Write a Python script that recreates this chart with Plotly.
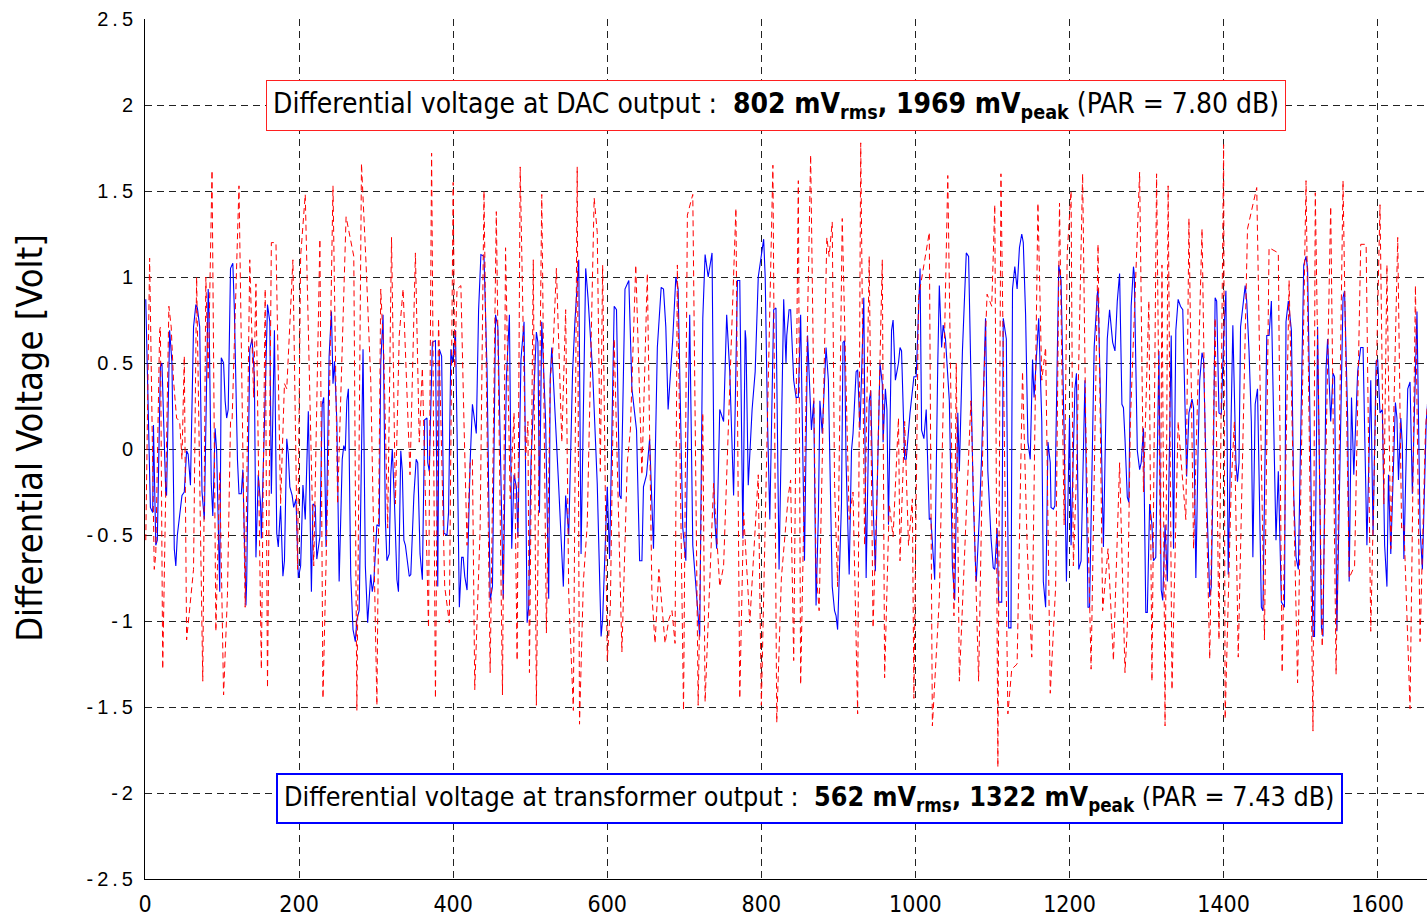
import plotly.graph_objects as go

# Transformer output (blue, solid): sample index, differential voltage [V]
transformer_samples = [
    (1, 0.87), (7, -0.34), (10, -0.37), (11, 0.14), (14, -0.56), (16, -0.53), (20, 0.48), (22, 0.50),
    (27, -0.26), (28, -0.27), (32, 0.69), (35, 0.50), (38, -0.58), (40, -0.68), (42, -0.50), (45, -0.37),
    (48, -0.27), (51, -0.25), (54, -0.01), (56, -0.03), (59, -0.21), (63, 0.71), (66, 0.84), (68, 0.82),
    (71, 0.71), (74, -0.25), (77, -0.41), (82, 0.93), (83, 0.81), (86, -0.20), (88, -0.39), (91, 0.12),
    (93, -0.01), (97, -0.83), (99, 0.53), (102, 0.50), (104, 0.28), (106, 0.18), (108, 0.23), (111, 1.05),
    (114, 1.08), (116, 0.81), (120, -0.06), (122, -0.26), (125, -0.26), (127, -0.12), (131, -0.91), (132, -0.77),
    (136, 0.58), (139, 0.64), (142, 0.42), (144, -0.63), (147, -0.15), (150, -0.32), (151, -0.52), (155, 0.14),
    (159, 0.84), (162, 0.74), (164, -0.26), (168, 0.69), (171, -0.49), (173, -0.57), (176, -0.33), (179, -0.74),
    (181, -0.65), (184, 0.06), (186, -0.03), (188, -0.22), (191, -0.27), (193, -0.34), (196, -0.29), (199, -0.75),
    (202, -0.68), (205, -0.21), (208, -0.41), (212, 0.22), (216, -0.83), (218, -0.32), (221, -0.33), (223, -0.64),
    (227, -0.51), (230, 0.26), (232, 0.30), (235, -0.57), (239, 0.54), (242, 0.80), (244, 0.38), (246, 0.51),
    (249, 0.16), (252, -0.77), (256, -0.06), (258, 0.02), (260, -0.01), (262, 0.28), (264, 0.35), (267, -0.73),
    (270, -1.05), (273, -1.12), (275, -0.99), (278, -0.94), (283, 0.58), (286, -0.68), (289, -1.01), (293, -0.73),
    (295, -0.83), (297, -0.77), (299, -0.56), (301, -0.44), (304, -0.45), (306, 0.50), (309, 0.78), (312, -0.41),
    (314, -0.65), (317, -0.61), (319, -0.15), (321, 0.00), (324, -0.34), (327, -0.76), (329, -0.83), (332, -0.01),
    (334, -0.13), (336, -0.53), (338, -0.56), (341, -0.67), (343, -0.74), (345, -0.73), (349, -0.27), (352, -0.06),
    (354, -0.08), (357, -0.61), (360, -0.76), (363, 0.17), (366, 0.18), (367, -0.08), (369, -0.13), (373, 0.62),
    (377, 0.63), (380, -0.80), (382, 0.58), (385, 0.54), (388, -0.49), (392, -0.50), (394, -0.37), (397, 0.58),
    (399, 0.50), (401, 0.59), (403, 0.69), (405, 0.11), (408, -0.92), (411, -0.63), (413, -0.63), (415, -0.74),
    (418, -0.82), (422, -0.08), (425, 0.26), (428, 0.16), (430, 0.09), (433, 0.81), (436, 1.13), (440, 1.12),
    (444, 0.45), (448, -0.88), (451, -0.80), (455, 0.78), (458, 0.71), (461, 0.06), (465, -0.87), (469, 0.40),
    (473, 0.78), (476, -0.58), (479, -0.15), (482, -0.22), (484, -0.51), (488, 0.52), (492, 0.74), (496, -1.01),
    (498, -0.92), (501, -0.08), (508, 0.68), (510, 0.62), (512, -0.37), (515, 0.74), (520, 0.16), (524, -0.87),
    (526, 0.42), (528, 0.59), (531, 0.33), (535, 0.02), (537, -0.22), (543, -0.80), (546, -0.27), (550, -0.50),
    (555, 0.45), (558, 0.74), (563, 1.10), (566, -0.61), (572, 1.05), (575, 0.88), (578, 0.64), (581, 0.45),
    (587, -0.20), (592, -1.09), (594, -0.99), (600, -0.22), (603, -0.64), (609, 0.83), (612, 0.81), (616, -0.27),
    (618, -0.29), (620, 0.30), (623, 0.93), (628, 0.98), (632, 0.35), (638, 0.11), (642, -0.65), (645, -0.65),
    (647, -0.22), (651, -0.15), (655, 0.06), (660, -0.58), (665, 0.59), (670, 0.94), (673, 0.93), (676, 0.71),
    (679, 0.23), (685, 0.64), (689, 1.00), (692, 0.93), (698, -0.46), (702, -0.65), (707, 0.78), (711, -0.56),
    (716, -0.87), (720, -1.09), (724, 0.76), (727, 1.13), (731, 1.00), (736, 1.14), (739, -0.37), (742, -0.58),
    (746, 0.23), (751, 0.16), (755, 0.78), (759, 0.45), (764, -0.27), (769, 0.98), (772, 0.98), (776, -0.52),
    (779, 0.69), (780, 0.64), (783, -0.21), (788, 0.23), (792, 0.45), (796, 1.00), (803, 1.22), (805, 1.00),
    (808, 0.16), (811, -0.41), (816, 0.81), (819, 0.82), (823, -0.70), (829, 0.87), (832, 0.50), (833, 0.66),
    (836, 0.81), (838, 0.81), (842, 0.40), (845, 0.30), (848, 0.30), (851, 0.78), (856, -0.65), (860, 0.66),
    (865, 0.11), (868, 0.28), (871, -0.91), (874, -0.39), (876, 0.28), (879, 0.09), (884, 0.59), (887, 0.40),
    (892, -0.80), (895, -0.94), (897, -0.97), (899, -1.05), (904, -0.32), (906, 0.62), (908, 0.63), (910, -0.08),
    (914, -0.73), (917, -0.01), (919, 0.09), (921, 0.26), (923, 0.45), (925, 0.46), (928, 0.11), (933, 0.88),
    (936, -0.75), (940, 0.28), (942, 0.34), (945, -0.32), (948, -0.71), (954, 0.50), (957, 0.38), (958, 0.04),
    (961, 0.35), (963, 0.23), (965, -0.44), (969, 0.69), (971, 0.75), (974, 0.40), (978, 0.50), (980, 0.59),
    (982, 0.57), (986, -0.06), (988, -0.06), (993, 0.21), (995, 0.30), (998, 0.42), (1001, 0.42), (1006, 1.05),
    (1008, 0.11), (1011, 0.06), (1014, 0.23), (1018, -0.41), (1020, -0.40), (1025, -0.76), (1029, 0.50), (1031, 0.95),
    (1034, 0.59), (1036, 0.72), (1039, 0.64), (1044, 0.28), (1048, -0.68), (1051, -0.88), (1055, 0.21), (1057, -0.13),
    (1061, 0.57), (1066, 1.14), (1069, 1.12), (1071, 0.64), (1075, -0.27), (1078, -0.68), (1079, -0.77), (1083, -0.39),
    (1086, -0.03), (1091, 0.76), (1094, -0.13), (1098, -0.51), (1101, -0.69), (1103, -0.70), (1106, -0.46), (1108, -0.89),
    (1112, -0.89), (1114, 0.76), (1118, 0.64), (1121, -1.04), (1124, -1.04), (1126, 0.93), (1129, 1.06), (1132, 0.93),
    (1135, 1.17), (1138, 1.25), (1140, 1.20), (1143, 0.78), (1146, 0.04), (1149, -0.06), (1152, 0.52), (1154, 0.30),
    (1158, 0.64), (1160, 0.76), (1164, 0.16), (1166, -0.77), (1169, -0.92), (1172, 0.04), (1175, -0.08), (1176, -0.34),
    (1179, -0.35), (1181, -0.33), (1186, 1.07), (1189, 0.98), (1193, 0.09), (1196, -0.77), (1200, 0.18), (1202, -0.56),
    (1207, 0.35), (1209, 0.44), (1212, -0.70), (1215, -0.65), (1220, 0.40), (1224, -0.92), (1226, -0.92), (1232, 0.59),
    (1236, 0.90), (1237, 0.93), (1241, 0.11), (1244, -0.57), (1249, 0.64), (1252, 0.81), (1256, 0.62), (1259, 0.57),
    (1262, 0.86), (1265, 1.02), (1268, 0.26), (1270, 0.24), (1272, 0.06), (1275, -0.28), (1277, -0.31), (1280, 0.83),
    (1283, 1.06), (1284, 1.02), (1288, -0.01), (1291, -0.12), (1293, -0.08), (1296, 0.12), (1299, -0.95), (1301, -0.95),
    (1304, -0.32), (1307, -0.44), (1309, -0.65), (1312, -0.63), (1316, 0.57), (1319, -0.82), (1321, -0.88), (1324, -0.44),
    (1327, -0.77), (1332, 0.66), (1335, -0.58), (1338, 0.69), (1341, 0.87), (1344, 0.83), (1347, 0.81), (1349, 0.40),
    (1352, -0.16), (1355, 0.21), (1359, 0.29), (1361, 0.24), (1364, -0.75), (1367, 0.02), (1369, 0.40), (1372, 0.56),
    (1374, 0.52), (1378, -0.27), (1382, -0.86), (1384, -0.80), (1387, 0.04), (1389, 0.88), (1391, 0.86), (1394, 0.21),
    (1397, 0.20), (1400, 0.64), (1403, 0.92), (1406, -0.73), (1412, 0.72), (1416, -0.08), (1418, -0.19), (1420, -0.08),
    (1422, 0.71), (1425, 0.83), (1428, 0.95), (1430, 0.86), (1433, 0.57), (1436, 0.16), (1438, -0.63), (1441, 0.26),
    (1444, 0.35), (1446, -0.15), (1449, -0.92), (1451, -0.94), (1456, 0.66), (1459, 0.66), (1462, 0.86), (1466, -0.08),
    (1468, -0.53), (1471, -0.13), (1475, -0.89), (1479, -0.92), (1481, 0.74), (1484, 0.86), (1488, 0.69), (1491, -0.27),
    (1494, -0.63), (1497, -0.70), (1501, 0.45), (1504, 1.07), (1507, 1.12), (1509, 1.05), (1513, -0.08), (1516, -1.09),
    (1518, -1.09), (1522, 0.71), (1525, -0.32), (1527, -1.04), (1529, -1.09), (1533, 0.47), (1535, 0.64), (1539, 0.16),
    (1542, 0.44), (1544, 0.42), (1547, -1.06), (1553, 0.40), (1555, 0.88), (1557, 0.92), (1561, 0.18), (1563, -0.77),
    (1566, 0.30), (1569, -0.15), (1574, 0.45), (1578, 0.59), (1581, 0.59), (1586, -0.56), (1591, 0.40), (1594, -0.50),
    (1598, 0.51), (1600, 0.52), (1603, 0.21), (1606, 0.23), (1609, -0.56), (1612, -0.80), (1614, -0.15), (1617, -0.61),
    (1623, 0.27), (1625, 0.18), (1627, -0.18), (1630, 0.18), (1632, 0.02), (1634, -0.64), (1639, 0.35), (1642, 0.39),
    (1645, -0.26), (1651, 0.80), (1655, -0.46), (1658, -0.70), (1663, 0.16), (1667, 0.40),
]

# DAC output (red, dashed): sample index, differential voltage [V]
dac_samples = [
    (1, -0.53), (6, 1.11), (12, -0.70), (14, -0.61), (19, 0.69), (20, 0.71), (23, -1.28), (31, 0.83),
    (34, 0.71), (37, 0.40), (41, 0.18), (45, 0.16), (48, -0.06), (51, 0.54), (54, -1.11), (59, -0.89),
    (63, -0.70), (67, 1.00), (75, -1.35), (79, 1.00), (82, 0.40), (87, 1.62), (92, -1.06), (97, -0.13),
    (102, -1.43), (107, -0.85), (111, 0.16), (113, 0.16), (122, 1.53), (130, -0.92), (136, 1.10), (141, 0.30),
    (144, 0.96), (151, -1.28), (156, 0.93), (159, -1.39), (164, 1.20), (170, 1.20), (176, -0.32), (181, 0.38),
    (184, 0.35), (192, 1.10), (198, -0.70), (202, 1.12), (208, 1.48), (219, -0.68), (227, 1.22), (231, -1.45),
    (238, -0.08), (244, 1.53), (250, -0.32), (261, 1.35), (267, 1.22), (271, 1.12), (275, -1.52), (281, 1.66),
    (287, 1.07), (293, 0.40), (301, -1.49), (306, 0.93), (310, 0.54), (315, -0.46), (320, 1.23), (325, -0.32),
    (330, 0.66), (335, 0.93), (344, -0.15), (351, 1.14), (356, 0.04), (360, 0.47), (368, -1.04), (372, 1.72),
    (377, -1.45), (381, 0.76), (389, -0.80), (395, -1.01), (400, 1.55), (402, 0.47), (405, 0.93), (410, 0.95),
    (414, 0.16), (418, -0.56), (422, -0.08), (425, -0.06), (428, -1.40), (431, -1.04), (435, -0.46), (440, 1.50),
    (443, 0.40), (448, -1.30), (456, 1.38), (464, -1.43), (468, 1.17), (474, -0.29), (479, 0.21), (483, -1.23),
    (487, 1.64), (494, -0.06), (497, 0.16), (499, -1.30), (504, 1.10), (508, -1.49), (515, 1.48), (521, -1.07),
    (526, 0.40), (530, 0.62), (534, 1.05), (541, 0.04), (546, 0.81), (550, -0.85), (556, -1.52), (561, 1.64),
    (564, -1.60), (569, -0.77), (574, -0.44), (583, 1.46), (587, 1.26), (591, -0.13), (594, 1.07), (600, -1.23),
    (604, -0.92), (609, 0.64), (619, -1.18), (626, -0.08), (630, 0.11), (637, 1.07), (645, -0.15), (652, 1.02),
    (658, -0.85), (662, -1.13), (667, -0.70), (675, -1.13), (680, -0.99), (684, -0.94), (688, -1.13), (691, 1.07),
    (699, -1.52), (704, 1.36), (711, 1.48), (718, -1.49), (724, 0.21), (727, -1.47), (738, -0.20), (746, -0.80),
    (751, -0.68), (767, 1.40), (772, -1.45), (777, -0.37), (785, -1.01), (796, -0.15), (800, -1.49), (815, 1.65),
    (820, -1.59), (826, -0.75), (835, -0.27), (838, -0.18), (842, -1.23), (848, 1.56), (851, -1.37), (858, 0.26),
    (864, 1.71), (871, -0.70), (875, -0.94), (879, -0.08), (885, 1.23), (888, 1.12), (892, 1.32), (895, -0.20),
    (899, -0.80), (905, 1.34), (914, -0.41), (919, -0.25), (922, -0.99), (925, -1.54), (929, 1.78), (934, -0.56),
    (940, 1.12), (945, -1.04), (950, -0.27), (957, 1.10), (960, -1.33), (966, -0.32), (971, -0.51), (978, 0.18),
    (980, -0.65), (986, 0.16), (991, -0.56), (996, -0.29), (998, -1.45), (1004, 0.88), (1018, 1.26), (1022, -1.61),
    (1031, -0.87), (1042, 1.59), (1050, -0.97), (1053, 0.50), (1057, -1.35), (1064, -0.61), (1072, 0.28), (1082, -1.35),
    (1089, 0.42), (1093, 0.90), (1099, 0.83), (1103, 1.42), (1107, -1.85), (1111, 1.60), (1120, -1.54), (1125, -1.28),
    (1132, -1.25), (1139, 0.45), (1145, -0.56), (1151, -1.21), (1159, 1.43), (1164, 0.40), (1169, 0.59), (1175, -1.42),
    (1182, -0.80), (1187, 1.43), (1193, -0.44), (1197, 1.14), (1202, 1.50), (1205, -0.68), (1209, -0.15), (1217, 1.60),
    (1221, 0.16), (1228, -1.28), (1237, 1.19), (1243, -0.94), (1250, -0.58), (1257, -1.23), (1265, -0.08), (1272, -1.30),
    (1275, -1.04), (1279, 0.16), (1291, 1.61), (1296, -0.25), (1303, 0.86), (1307, -1.35), (1313, 1.60), (1318, -0.61),
    (1320, 1.07), (1324, -1.61), (1328, 1.53), (1333, -1.40), (1336, -0.77), (1341, 0.16), (1345, -0.08), (1351, -0.41),
    (1355, 1.34), (1361, -0.58), (1372, 1.28), (1377, -0.22), (1382, -1.22), (1389, 0.76), (1394, -1.11), (1400, 1.77),
    (1402, -1.57), (1410, -0.20), (1414, 0.16), (1419, -1.21), (1431, 1.28), (1443, 1.52), (1453, -1.11), (1459, 1.17),
    (1471, 1.14), (1476, -1.30), (1485, 0.98), (1496, -1.36), (1507, 1.56), (1516, -1.64), (1519, 1.49), (1528, -1.15),
    (1539, 1.41), (1546, -1.31), (1555, 1.56), (1563, -0.75), (1570, -0.68), (1578, 1.19), (1585, 1.19), (1591, -1.06),
    (1603, 1.42), (1608, -0.32), (1612, 1.07), (1617, -0.58), (1626, 1.23), (1631, -0.46), (1634, -0.44), (1642, -1.51),
    (1649, 0.95), (1655, -1.12), (1662, 0.11), (1667, 0.40),
]

x_ticks = [0, 200, 400, 600, 800, 1000, 1200, 1400, 1600]
y_ticks = [-2.5, -2, -1.5, -1, -0.5, 0, 0.5, 1, 1.5, 2, 2.5]
y_tick_text = ["-2.5", "-2", "-1.5", "-1", "-0.5", "0", "0.5", "1", "1.5", "2", "2.5"]

dac_label = ("Differential voltage at DAC output :  <b>802 mV<sub>rms</sub>, "
             "1969 mV<sub>peak</sub></b> (PAR = 7.80 dB)")
xfmr_label = ("Differential voltage at transformer output :  <b>562 mV<sub>rms</sub>, "
              "1322 mV<sub>peak</sub></b> (PAR = 7.43 dB)")

NARROW = "Liberation Sans Narrow, Arial Narrow, DejaVu Sans Condensed, Liberation Sans, sans-serif"
REGULAR = "Liberation Sans, Arial, sans-serif"


def spaced(label):
    # MATLAB-style loose letter spacing on the y tick labels
    return "\u2009".join(label)


fig = go.Figure()
fig.add_trace(go.Scatter(
    x=[p[0] for p in transformer_samples], y=[p[1] for p in transformer_samples],
    mode="lines", line=dict(color="#0000ff", width=1.1), showlegend=False,
))
fig.add_trace(go.Scatter(
    x=[p[0] for p in dac_samples], y=[p[1] for p in dac_samples],
    mode="lines", line=dict(color="#ff0000", width=1, dash="6px,4px"), showlegend=False,
))

fig.add_annotation(
    x=819, y=2.0, xref="x", yref="y", text=dac_label, showarrow=False,
    font=dict(family=NARROW, size=28, color="black"),
    bgcolor="white", bordercolor="#ff2020", borderwidth=1, borderpad=6,
)
fig.add_annotation(
    x=863, y=-2.03, xref="x", yref="y", text=xfmr_label, showarrow=False,
    font=dict(family=NARROW, size=26.7, color="black"),
    bgcolor="white", bordercolor="#0000ff", borderwidth=2, borderpad=6,
)
fig.add_annotation(
    x=-0.0897, y=0.513, xref="paper", yref="paper", text="Differential Voltage [Volt]",
    showarrow=False, textangle=-90, xanchor="center", yanchor="middle",
    font=dict(family=NARROW, size=36, color="black"),
)

grid_style = dict(showgrid=True, gridcolor="#222222", gridwidth=1, griddash="7px,5px")

fig.update_xaxes(
    range=[0, 1664], tickvals=x_ticks, ticks="outside", ticklen=4, tickcolor="rgba(0,0,0,0)",
    zeroline=False, showline=True, linecolor="black", linewidth=1, mirror=False,
    tickfont=dict(family=NARROW, size=23, color="black"), **grid_style,
)
fig.update_yaxes(
    range=[-2.5, 2.5], tickvals=y_ticks, ticktext=[spaced(t) for t in y_tick_text],
    ticks="outside", ticklen=7, tickcolor="rgba(0,0,0,0)", zeroline=False,
    showline=True, linecolor="black", linewidth=1, mirror=False,
    tickfont=dict(family=REGULAR, size=20, color="black"), **grid_style,
)

fig.update_layout(
    width=1427, height=917,
    margin=dict(l=145, r=0, t=19, b=34),
    paper_bgcolor="white", plot_bgcolor="white",
)

fig.write_html("out.html")
